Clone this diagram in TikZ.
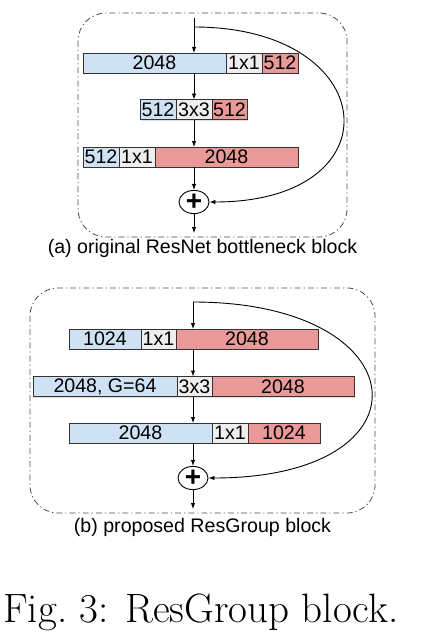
\documentclass[tikz,border=0pt]{standalone}
\usepackage{fontspec}
\newfontfamily\arialfont{Liberation Sans}
\usetikzlibrary{arrows.meta,positioning,shapes.geometric,shadows}

\definecolor{convblue}{HTML}{CFE2F3}
\definecolor{convgrey}{HTML}{EEEEEE}
\definecolor{convred}{HTML}{EA9999}
\definecolor{framegrey}{HTML}{4D4D4D}

\begin{document}
\begin{tikzpicture}
		[
			x=1pt, y=-1pt,
			font=\arialfont\fontsize{19.6}{22}\selectfont,
			seg/.style={draw=black!80, line width=0.7pt, minimum height=20pt, inner sep=0pt, outer sep=0pt,
				drop shadow={shadow xshift=1pt, shadow yshift=-1pt, opacity=0.25}},
			inseg/.style={seg, fill=convblue},
			kseg/.style={seg, fill=convgrey},
			outseg/.style={seg, fill=convred},
			adder/.style={draw, ellipse, line width=0.9pt, minimum width=30pt, minimum height=22pt, inner sep=0pt,
				font=\arialfont\bfseries\fontsize{28}{28}\selectfont},
			frame/.style={draw=framegrey, line width=0.8pt, rounded corners=28pt, dash pattern=on 6pt off 3pt on 1.2pt off 3pt},
			arrow/.style={-{Latex[length=6pt,width=4.5pt]}, line width=0.9pt},
			caption/.style={anchor=base, inner sep=0pt}
		]

		\useasboundingbox (0,0) rectangle (420,642);

		% frames
		\draw[frame] (78,13) rectangle (347,237);
		\draw[frame] (30,288) rectangle (375,513);

		% layers of the original block
		\node[inseg, minimum width=143pt, anchor=west] (a1in) at ( 83, 63 ) {2048};
		\node[kseg, minimum width=36pt, right=0pt of a1in] (a1k) {1x1};
		\node[outseg, minimum width=36pt, right=0pt of a1k] (a1out) {512};

		\node[inseg, minimum width=36pt, anchor=west] (a2in) at ( 140, 109.5 ) {512};
		\node[kseg, minimum width=36pt, right=0pt of a2in] (a2k) {3x3};
		\node[outseg, minimum width=35pt, right=0pt of a2k] (a2out) {512};

		\node[inseg, minimum width=36pt, anchor=west] (a3in) at ( 83, 157 ) {512};
		\node[kseg, minimum width=36pt, right=0pt of a3in] (a3k) {1x1};
		\node[outseg, minimum width=143pt, right=0pt of a3k] (a3out) {2048};

		\node[adder] (aadd) at ( 194, 202 ) {+};

		% axis of the original block
		\coordinate (ain) at ( 194, 18 );
		\coordinate (askip) at ( 194, 27 );
		\coordinate (aout) at ( 194, 233 );

		% paths of the original block
		\draw[arrow] (ain) -- (ain |- a1in.north);
		\foreach \from/\to in {a1in/a2in,a2in/a3in}
		\draw[arrow] (ain |- \from.south) -- (ain |- \to.north);
		\draw[arrow] (ain |- a3in.south) -- (aadd);
		\draw[arrow] (aadd) -- (aout);
		\draw[arrow] (askip) to [out=0,in=0,looseness=2.75] (aadd);

		% layers of the proposed block
		\node[inseg, minimum width=72pt, anchor=west] (b1in) at ( 69, 339 ) {1024};
		\node[kseg, minimum width=35pt, right=0pt of b1in] (b1k) {1x1};
		\node[outseg, minimum width=142pt, right=0pt of b1k] (b1out) {2048};

		\node[inseg, minimum width=144pt, anchor=west] (b2in) at ( 33, 386.5 ) {2048, G=64};
		\node[kseg, minimum width=35pt, right=0pt of b2in] (b2k) {3x3};
		\node[outseg, minimum width=142pt, right=0pt of b2k] (b2out) {2048};

		\node[inseg, minimum width=143pt, anchor=west] (b3in) at ( 69, 433 ) {2048};
		\node[kseg, minimum width=36pt, right=0pt of b3in] (b3k) {1x1};
		\node[outseg, minimum width=72pt, right=0pt of b3k] (b3out) {1024};

		\node[adder] (badd) at ( 193, 478 ) {+};

		% axis of the proposed block
		\coordinate (bin) at ( 193, 302 );
		\coordinate (bout) at ( 193, 509 );

		% paths of the proposed block
		\draw[arrow] (bin) -- (bin |- b1in.north);
		\foreach \from/\to in {b1in/b2in,b2in/b3in}
		\draw[arrow] (bin |- \from.south) -- (bin |- \to.north);
		\draw[arrow] (bin |- b3in.south) -- (badd);
		\draw[arrow] (badd) -- (bout);
		\draw[arrow] (bin) to [out=0,in=0,looseness=3.3] (badd);

		% captions
		\node[caption] (capa) at ( 202.5, 253 ) {(a) original ResNet bottleneck block};
		\node[caption] (capb) at ( 202.5, 532 ) {(b) proposed ResGroup block};
		\node[caption, font=\rmfamily\fontsize{41}{44}\selectfont] (capfig) at ( 201, 622 ) {Fig.~3: ResGroup block.};

	\end{tikzpicture}
\end{document}
